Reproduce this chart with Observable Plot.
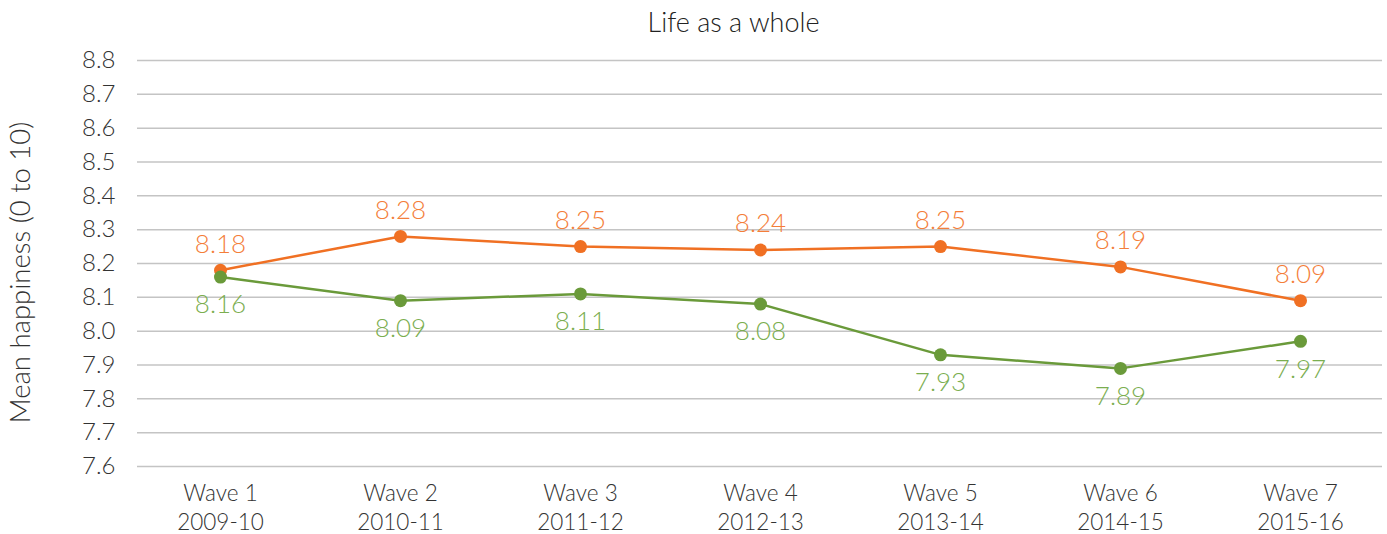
<!DOCTYPE html>
<html>
<head>
<meta charset="utf-8">
<script src="https://cdn.jsdelivr.net/npm/d3@7"></script>
<script src="https://cdn.jsdelivr.net/npm/@observablehq/plot@0.6"></script>
<style>
  body { margin: 0; background: #fff; font-family: Lato, "Open Sans", sans-serif; }
  #title { height: 44px; line-height: 44px; text-align: center; font-size: 27px; color: #222; font-weight: 300; width: 1387px; padding-left: 80px; box-sizing: border-box; }
  svg text { font-weight: 300; }
</style>
</head>
<body>
<div id="title">Life as a whole</div>
<div id="chart"></div>
<script>
const waves = ["Wave 1\n2009-10", "Wave 2\n2010-11", "Wave 3\n2011-12", "Wave 4\n2012-13", "Wave 5\n2013-14", "Wave 6\n2014-15", "Wave 7\n2015-16"];
const orangeValues = [8.18, 8.28, 8.25, 8.24, 8.25, 8.19, 8.09];
const greenValues = [8.16, 8.09, 8.11, 8.08, 7.93, 7.89, 7.97];
const yTicks = [7.6, 7.7, 7.8, 7.9, 8.0, 8.1, 8.2, 8.3, 8.4, 8.5, 8.6, 8.7, 8.8];
const yTitle = "Mean happiness (0 to 10)";

const orange = waves.map((w, i) => ({wave: w, value: orangeValues[i]}));
const green = waves.map((w, i) => ({wave: w, value: greenValues[i]}));

const chart = Plot.plot({
  width: 1387,
  height: 490,
  marginTop: 16,
  marginBottom: 68,
  marginLeft: 137,
  marginRight: 5,
  style: {fontFamily: "Lato, 'Open Sans', sans-serif", color: "#333", background: "#fff"},
  x: {type: "point", domain: waves, padding: 0.458},
  y: {domain: [7.6, 8.8]},
  marks: [
    Plot.gridY(yTicks, {stroke: "#c4c4c4", strokeOpacity: 1, strokeWidth: 1.5}),
    Plot.axisY(yTicks, {tickSize: 0, tickPadding: 22, fontSize: 24, tickFormat: d3.format(".1f"), label: null}),
    Plot.text([yTitle], {frameAnchor: "left", textAnchor: "middle", lineAnchor: "middle", rotate: -90, dx: -116, dy: 9, fontSize: 27.5, fill: "#333"}),
    Plot.axisX({tickSize: 0, tickPadding: 15, fontSize: 22.5, lineHeight: 1.25, label: null, lineAnchor: "top"}),
    Plot.line(orange, {x: "wave", y: "value", stroke: "#F07023", strokeWidth: 2.5}),
    Plot.line(green, {x: "wave", y: "value", stroke: "#6A9A3A", strokeWidth: 2.5}),
    Plot.dot(orange, {x: "wave", y: "value", fill: "#F07023", r: 6.5}),
    Plot.dot(green, {x: "wave", y: "value", fill: "#6A9A3A", r: 6.5}),
    Plot.text(orange, {x: "wave", y: "value", text: d => d.value.toFixed(2), dy: -26, fill: "#F47E3A", fontSize: 26}),
    Plot.text(green, {x: "wave", y: "value", text: d => d.value.toFixed(2), dy: 28, fill: "#7BAE50", fontSize: 26})
  ]
});
document.getElementById("chart").append(chart);
</script>
</body>
</html>
